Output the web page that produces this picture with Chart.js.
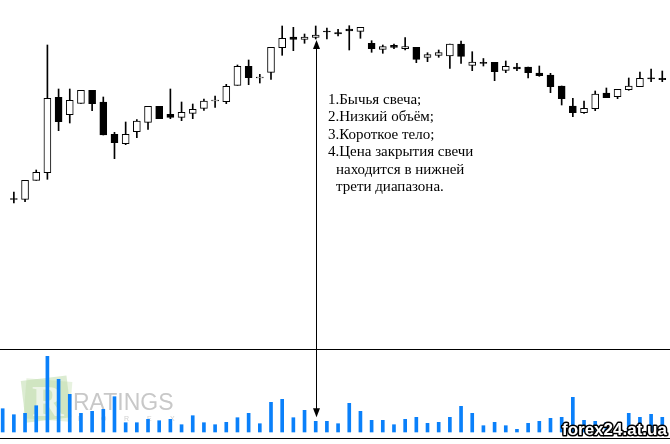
<!DOCTYPE html>
<html>
<head>
<meta charset="utf-8">
<script src="https://cdn.jsdelivr.net/npm/chart.js@4/dist/chart.umd.min.js"></script>
<style>
  html, body { margin: 0; padding: 0; background: #fff; }
  canvas { display: block; }
</style>
</head>
<body>
<canvas id="candleChart" width="670" height="444"></canvas>
<script>
// bar numbers (first bar has only volume visible)
var bars = [];
for (let i = 0; i < 60; i++) bars.push(i);

var openData = [null, 51.5, 50.7, 69.7, 77.3, 152.7, 135.3, 146.7, 159.7, 148, 115.7, 106.3, 118.3, 127.7, 143.7, 135.7, 132.7, 136.7, 141.7, 149, 148.3, 164.7, 183.7, 172, 177.7, 202.3, 213, 210.7, 212.7, 218.5, 217.3, 221, 218.7, 206.7, 200.7, 204.7, 201.3, 202.7, 192.7, 194.7, 194, 206, 184.7, 187.7, 187.7, 179.7, 183, 183, 177, 175, 164, 144, 137.3, 141.3, 157, 153.3, 160.3, 163.3, 172.2, 171.7];
var highData = [null, 58, 69.7, 80, 205, 161, 161, 159.7, 159.7, 153, 117.7, 128, 130.3, 143.7, 143.7, 161, 148, 146, 151, 154, 165.7, 185, 190, 175.7, 202.7, 224, 222.7, 216, 224, 222, 220.7, 224.3, 222.7, 209.3, 205, 206, 212.3, 202.7, 197.3, 200, 206, 209, 198.3, 191.5, 187.7, 189, 186.7, 183, 184, 176.7, 164, 151.7, 149, 159, 162, 160.7, 172, 178, 181, 179];
var lowData = [null, 47, 48.3, 69.7, 70.7, 119.3, 127, 146.7, 139.3, 115, 91.3, 105.3, 112.3, 120.7, 131.3, 131.3, 129.3, 131.3, 139.7, 142.7, 146.3, 164.7, 165.3, 167, 170.7, 194.7, 199.3, 206.7, 211, 211, 214, 200, 211.7, 197.7, 196.7, 201.3, 200, 187.3, 188.3, 192.7, 181.7, 186.7, 179.3, 184, 169.3, 177.3, 179.3, 172, 173.7, 157.3, 145, 133.3, 136.7, 139.3, 152.3, 151.3, 159.7, 163.3, 168.3, 168.3];
var closeData = [null, 50.5, 69.7, 77.7, 151.7, 128.3, 149.7, 159.7, 146.3, 115, 107.3, 115.7, 129, 143.7, 131.3, 132.7, 137.7, 140.7, 149, 149.5, 163.7, 183.7, 172.3, 172.5, 202.7, 211.7, 210.7, 213, 215, 218, 216, 219, 222.7, 201.3, 203.3, 202.7, 203.3, 190.7, 195.3, 197.3, 206, 193.7, 188, 186.5, 178.3, 183.7, 181, 177.3, 174.3, 163.3, 151.3, 137.3, 141.7, 156, 152.3, 160.7, 164, 171.7, 171.2, 170.3];
var volumeData = [2330, 1730, 1870, 2630, 7570, 5270, 3770, 1870, 2070, 2270, 3530, 930, 930, 1270, 1130, 1270, 730, 1630, 930, 730, 970, 1430, 1870, 830, 2970, 3270, 1430, 2170, 1070, 1070, 830, 2870, 2070, 1170, 1170, 730, 1270, 1470, 870, 970, 1470, 2570, 1870, 630, 970, 630, 270, 870, 1070, 1370, 1470, 3470, 1170, 1070, 970, 670, 1870, 1470, 1770, 1470];

// marked candle and the notes next to it
var markedBar = 28;
var noteLines = [
  "1.Бычья свеча;",
  "2.Низкий объём;",
  "3.Короткое тело;",
  "4.Цена закрытия свечи",
  "находится в нижней",
  "трети диапазона."
];

var wickPoints = [];
var bodyPoints = [];
var bodyColors = [];
var volumePoints = [];
for (let i = 0; i < bars.length; i++) {
  volumePoints.push({ x: bars[i], y: volumeData[i] });
  if (openData[i] === null) continue;
  wickPoints.push({ x: bars[i], y: [lowData[i], highData[i]] });
  bodyPoints.push({ x: bars[i], y: [openData[i], closeData[i]] });
  bodyColors.push(closeData[i] > openData[i] ? "#ffffff" : "#000000");
}

var notesPlugin = {
  id: "notes",
  beforeDatasetsDraw: function(chart) {
    var ctx = chart.ctx;
    ctx.save();
    // faded "ratings forex" watermark behind the volume bars
    ctx.globalAlpha = 0.35;
    ctx.fillStyle = "#9cc97e";
    ctx.translate(47, 398);
    ctx.rotate(-0.12);
    ctx.fillRect(-24, -20, 46, 42);
    ctx.rotate(0.2);
    ctx.fillStyle = "#b9dba3";
    ctx.fillRect(-22, -18, 46, 40);
    ctx.setTransform(1, 0, 0, 1, 0, 0);
    ctx.globalAlpha = 0.6;
    ctx.fillStyle = "#ffffff";
    ctx.font = "bold 44px 'Liberation Serif'";
    ctx.fillText("R", 32, 416);
    ctx.globalAlpha = 1;
    ctx.fillStyle = "#c8c8c8";
    ctx.font = "23px 'Liberation Sans'";
    ctx.fillText("RATINGS", 73, 410);
    ctx.fillStyle = "#d0d0d0";
    ctx.font = "7px 'Liberation Sans'";
    var fx = ["F", "O", "R", "E", "X"];
    for (let k = 0; k < fx.length; k++) ctx.fillText(fx[k], 78 + k * 23, 421);
    ctx.restore();
  },
  afterDraw: function(chart) {
    var ctx = chart.ctx;
    var x = chart.scales.x;
    var y = chart.scales.y;
    var yv = chart.scales.yv;
    ctx.save();
    // panel separators
    ctx.strokeStyle = "#000";
    ctx.lineWidth = 1;
    ctx.beginPath();
    ctx.moveTo(0, 349.5); ctx.lineTo(670, 349.5);
    ctx.moveTo(0, 438.5); ctx.lineTo(670, 438.5);
    ctx.stroke();

    // double arrow from the marked candle down to its volume bar
    var ax = Math.round(x.getPixelForValue(markedBar)) + 0.5;
    var top = y.getPixelForValue(lowData[markedBar]) + 1;
    var bottom = yv.getPixelForValue(volumeData[markedBar]) - 4;
    ctx.beginPath();
    ctx.moveTo(ax, top + 6); ctx.lineTo(ax, bottom - 6);
    ctx.stroke();
    ctx.fillStyle = "#000";
    ctx.beginPath();
    ctx.moveTo(ax, top); ctx.lineTo(ax - 3.5, top + 9); ctx.lineTo(ax + 3.5, top + 9);
    ctx.closePath(); ctx.fill();
    ctx.beginPath();
    ctx.moveTo(ax, bottom); ctx.lineTo(ax - 3.5, bottom - 9); ctx.lineTo(ax + 3.5, bottom - 9);
    ctx.closePath(); ctx.fill();

    // list of notes
    ctx.font = "15px 'Liberation Serif'";
    ctx.fillStyle = "#000";
    ctx.textBaseline = "alphabetic";
    for (let k = 0; k < noteLines.length; k++) {
      var tx = k < 4 ? 328 : 336;
      ctx.fillText(noteLines[k], tx, 104 + k * 17.4);
    }

    // site label
    ctx.font = "bold 17px 'Liberation Sans'";
    ctx.lineJoin = "round";
    ctx.lineWidth = 3;
    ctx.strokeStyle = "#000";
    ctx.strokeText("forex24.at.ua", 562, 435);
    ctx.fillStyle = "#fff";
    ctx.fillText("forex24.at.ua", 562, 435);
    ctx.restore();
  }
};

const dataCandles = {
  datasets: [
    {
      label: "body",
      data: bodyPoints,
      backgroundColor: bodyColors,
      borderColor: "#000000",
      borderWidth: 1,
      borderSkipped: false,
      barThickness: 7,
      minBarLength: 1,
      yAxisID: "y",
      order: 0,
    },
    {
      label: "wick",
      data: wickPoints,
      backgroundColor: "#000000",
      barThickness: 1,
      yAxisID: "y",
      order: 1,
    },
    {
      label: "volume",
      data: volumePoints,
      backgroundColor: "#0a80fa",
      barThickness: 3,
      yAxisID: "yv",
      order: 2,
    },
  ],
};

const configCandles = {
  type: "bar",
  data: dataCandles,
  options: {
    responsive: false,
    animation: false,
    devicePixelRatio: 1,
    layout: { padding: 0 },
    datasets: { bar: { grouped: false } },
    scales: {
      x: {
        type: "linear",
        display: false,
        offset: false,
        bounds: "data",
        min: -0.24,
        max: 59.69,
      },
      y: { display: false, min: -194, max: 250 },
      yv: { display: false, min: -1200, max: 43200 },
    },
    plugins: {
      legend: { display: false },
      tooltip: { enabled: false },
    },
  },
  plugins: [notesPlugin],
};

var candleChart = new Chart(
  document.getElementById("candleChart"),
  configCandles
);
</script>
</body>
</html>
